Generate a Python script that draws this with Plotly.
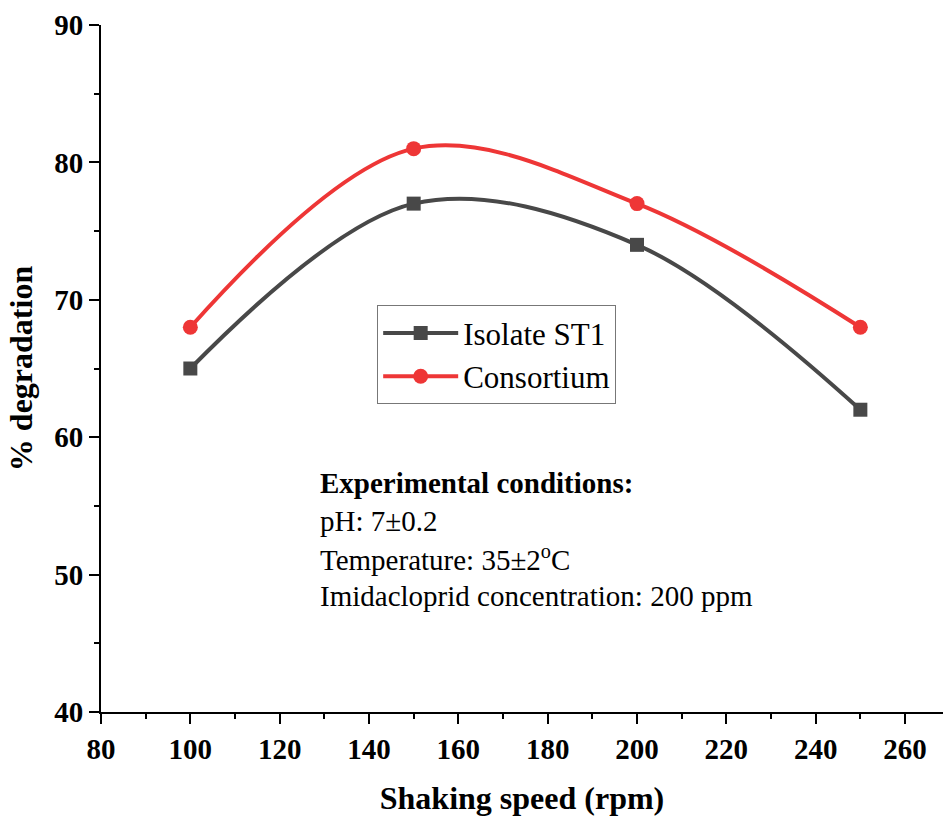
import plotly.graph_objects as go

# Shaking speed (rpm) and % degradation for each culture
speed = [100, 150, 200, 250]
isolate_st1 = [65, 77, 74, 62]
consortium = [68, 81, 77, 68]

x_ticks = [80, 100, 120, 140, 160, 180, 200, 220, 240, 260]
y_ticks = [40, 50, 60, 70, 80, 90]

conditions = [
    "<b>Experimental conditions:</b>",
    "pH: 7±0.2",
    "Temperature: 35±2<sup>o</sup>C",
    "Imidacloprid concentration: 200 ppm",
]

SERIF = "Liberation Serif, Times New Roman, serif"
GRAY = "#484848"
RED = "#ee3636"

fig = go.Figure()
fig.add_trace(go.Scatter(
    x=speed, y=isolate_st1, name="Isolate ST1",
    mode="lines+markers", line=dict(color=GRAY, width=4, shape="spline"),
    marker=dict(symbol="square", size=14, color=GRAY),
))
fig.add_trace(go.Scatter(
    x=speed, y=consortium, name="Consortium",
    mode="lines+markers", line=dict(color=RED, width=4, shape="spline"),
    marker=dict(symbol="circle", size=15, color=RED),
))

axis_common = dict(
    showline=True, linecolor="black", linewidth=2,
    ticks="outside", ticklen=10, tickwidth=2, tickcolor="black",
    showgrid=False, zeroline=False,
    tickfont=dict(family=SERIF, size=29, color="black", weight="bold"),
    minor=dict(ticks="outside", ticklen=5, tickwidth=2, tickcolor="black"),
)

fig.update_xaxes(
    range=[80, 268.5], tickvals=x_ticks, dtick=20,
    minor_dtick=10,
    title=dict(text="<b>Shaking speed (rpm)</b>", font=dict(family=SERIF, size=32, color="black"), standoff=23),
    **axis_common,
)
fig.update_yaxes(
    range=[40, 90], tickvals=y_ticks, dtick=10,
    minor_dtick=5,
    title=dict(text="<b>% degradation</b>", font=dict(family=SERIF, size=32, color="black"), standoff=12),
    **axis_common,
)

for i, line in enumerate(conditions):
    fig.add_annotation(
        xref="paper", yref="paper", x=0.258, y=(712 - 483 - i * 37.7) / 687,
        xanchor="left", yanchor="middle", showarrow=False, text=line,
        font=dict(family=SERIF, size=29, color="black"),
    )

fig.update_layout(
    width=943, height=816,
    margin=dict(l=101, r=0, t=25, b=104),
    paper_bgcolor="white", plot_bgcolor="white",
    showlegend=True,
    legend=dict(
        x=0.328, y=0.592, xanchor="left", yanchor="top",
        bordercolor="#777777", borderwidth=1, bgcolor="white",
        font=dict(family=SERIF, size=31, color="black"),
        itemwidth=75, tracegroupgap=0,
    ),
)

fig.write_html("out.html")
